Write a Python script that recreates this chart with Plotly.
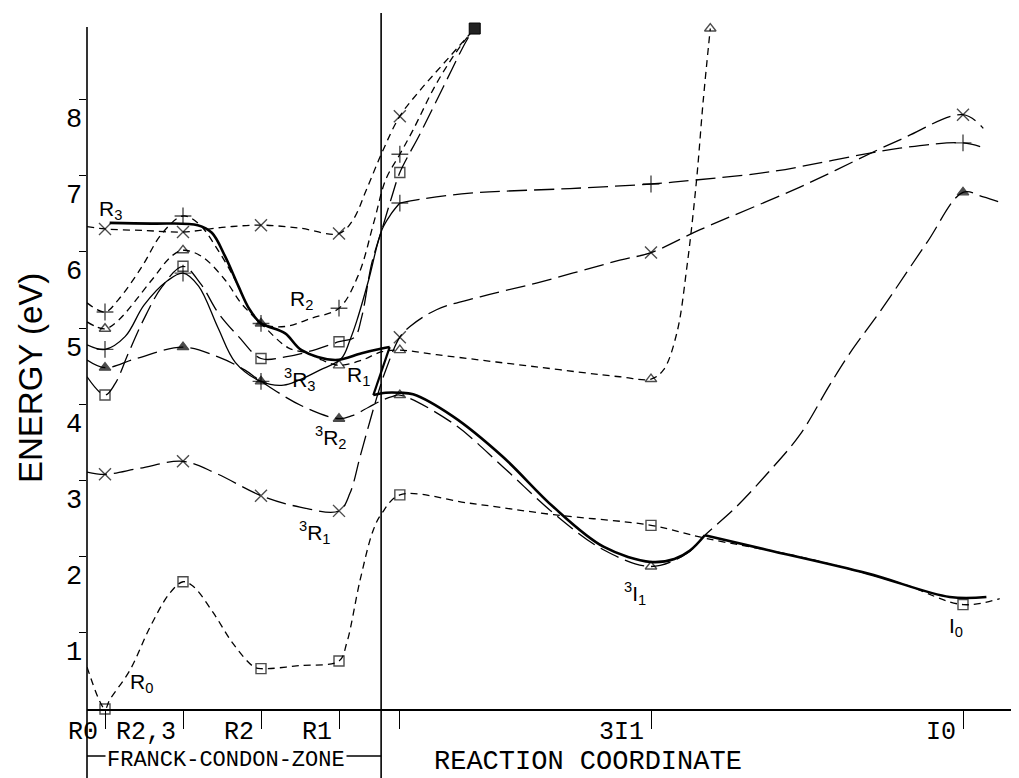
import plotly.graph_objects as go

# ---------------- axes ----------------
XMIN, XMAX = -0.2308, 11.718
YMIN, YMAX = 0.0, 9.134
X_TICKS = [0, 1, 2, 3, 3.78, 7, 11]
X_LABELS = ["R0", "R2,3", "R2", "R1", "3I1", "I0"]
X_LABEL_POS = [0, 1, 2, 3, 7, 11]
Y_TICKS = [1, 2, 3, 4, 5, 6, 7, 8]
X_DIVIDER = 3.54

# ---------------- curves (x, energy eV, marker code per point) ----------------
# marker codes: x = cross, + = plus, t = open triangle, T = filled triangle, s = open square
R0_x = [-0.23, 0, 0.06, 0.32, 0.58, 0.83, 1, 1.13, 1.39, 1.64, 1.9, 2, 2.5, 3, 3.1, 3.27, 3.44, 3.55,
        3.78, 4.68, 5.75, 7, 7.7, 8.9, 10.2, 11, 11.47]
R0_y = [0.55, 0.0, 0.12, 0.51, 1.08, 1.52, 1.67, 1.61, 1.26, 0.86, 0.56, 0.53, 0.57, 0.63, 0.87, 1.69, 2.35, 2.57,
        2.81, 2.70, 2.55, 2.41, 2.24, 2.0, 1.65, 1.37, 1.45]
R0_m = ["", "s", "", "", "", "", "s", "", "", "", "", "s", "", "s", "", "", "", "",
        "s", "", "", "s", "", "", "", "s", ""]

R3_x = [-0.23, 0, 0.5, 1, 1.5, 2, 2.5, 3, 3.18, 3.35, 3.55, 3.78, 4.04, 4.34, 4.74]
R3_y = [6.33, 6.30, 6.28, 6.26, 6.32, 6.35, 6.31, 6.24, 6.42, 6.81, 7.30, 7.78, 8.12, 8.47, 8.93]
R3_m = ["", "x", "", "x", "", "x", "", "x", "", "", "", "x", "", "", ""]

R2_x = [-0.23, 0, 0.17, 0.47, 0.73, 1, 1.2, 1.45, 1.67, 1.85, 2, 2.31, 2.65, 3, 3.25, 3.45, 3.6,
        3.78, 3.95, 4.25, 4.55, 4.74]
R2_y = [5.33, 5.21, 5.37, 5.80, 6.24, 6.47, 6.37, 6.02, 5.63, 5.25, 5.06, 5.02, 5.13, 5.26, 5.7, 6.4, 6.95,
        7.28, 7.6, 8.21, 8.69, 8.93]
R2_m = ["", "+", "", "", "", "+", "", "", "", "", "+", "", "", "+", "", "", "",
        "+", "", "", "", ""]

R1_x = [-0.23, 0, 0.17, 0.6, 0.85, 1, 1.24, 1.54, 1.75, 2, 2.35, 2.6, 2.78, 3, 3.3, 3.55, 3.78, 4.25,
        5.53, 6.6, 7, 7.16, 7.33, 7.46, 7.58, 7.67, 7.76]
R1_y = [5.08, 4.99, 5.10, 5.63, 5.94, 6.02, 5.94, 5.63, 5.32, 5.06, 4.74, 4.67, 4.58, 4.51, 4.58, 4.69, 4.71, 4.65,
        4.49, 4.36, 4.33, 4.45, 4.93, 5.80, 6.90, 7.99, 8.93]
R1_m = ["", "t", "", "", "", "t", "", "", "", "T", "", "", "", "t", "", "", "t", "",
        "", "", "t", "", "", "", "", "", "t"]

T1_x = [-0.23, 0, 0.45, 1, 1.43, 2, 2.5, 3, 3.14, 3.27, 3.4, 3.5, 3.6, 3.78, 3.91, 4.25, 4.81, 5.53, 6.6,
        7, 7.63, 8.91, 10.19, 11, 11.26]
T1_y = [3.11, 3.08, 3.16, 3.25, 3.09, 2.80, 2.65, 2.60, 2.83, 3.31, 3.79, 4.14, 4.45, 4.88, 5.02, 5.24, 5.41, 5.59,
        5.89, 5.99, 6.29, 6.85, 7.47, 7.80, 7.62]
T1_m = ["", "x", "", "x", "", "x", "", "x", "", "", "", "", "", "x", "", "", "", "", "",
        "x", "", "", "", "x", ""]

T2_x = [-0.23, 0, 0.4, 1, 1.45, 1.79, 2, 2.52, 3, 3.17, 3.38, 3.55, 3.68, 3.78, 4.46, 5.1, 5.75, 6.39, 7,
        7.46, 7.69, 8.08, 8.5, 8.91, 9.29, 9.55, 9.98, 10.53, 11, 11.26, 11.5]
T2_y = [4.58, 4.48, 4.60, 4.75, 4.62, 4.45, 4.30, 3.98, 3.81, 3.85, 3.96, 4.05, 4.10, 4.12, 3.75, 3.18, 2.57, 2.09,
        1.87, 2.04, 2.28, 2.64, 3.1, 3.6, 4.25, 4.67, 5.28, 6.11, 6.78, 6.72, 6.64]
T2_m = ["", "T", "", "T", "", "", "T", "", "T", "", "", "", "", "t", "", "", "", "", "t",
        "", "", "", "", "", "", "", "", "", "T", "", ""]

T3s_x = [-0.23, 0, 0.13, 0.3, 0.49, 0.73, 1, 1.22, 1.45, 1.71, 2, 2.31, 2.61, 3, 3.2, 3.29, 3.42, 3.55,
         3.67, 3.78, 4.04, 4.34, 4.64, 4.74]
T3s_y = [4.36, 4.12, 4.27, 4.67, 5.10, 5.54, 5.81, 5.59, 5.2, 4.89, 4.60, 4.62, 4.69, 4.82, 4.88, 5.14, 5.85, 6.29,
         6.7, 7.04, 7.55, 8.17, 8.78, 8.93]
T3s_m = ["", "s", "", "", "", "", "s", "", "", "", "s", "", "", "s", "", "", "", "",
         "", "s", "", "", "", ""]

T3p_x = [-0.23, 0, 0.26, 0.5, 0.8, 1, 1.2, 1.45, 1.67, 2, 2.29, 2.76, 3.03, 3.14, 3.23, 3.38, 3.55, 3.67, 3.78]
T3p_y = [4.78, 4.72, 4.89, 5.3, 5.62, 5.72, 5.55, 5.0, 4.55, 4.30, 4.25, 4.45, 4.6, 4.84, 5.1, 5.63, 6.29, 6.50, 6.64]
T3p_m = ["", "+", "", "", "", "+", "", "", "", "+", "", "", "", "", "", "", "", "", "+"]

IP_x = [3.78, 4.04, 4.68, 5.96, 7, 7.55, 8.53, 10.19, 11, 11.22]
IP_y = [6.64, 6.69, 6.77, 6.83, 6.89, 6.94, 7.05, 7.36, 7.43, 7.38]
IP_m = ["", "", "", "", "+", "", "", "", "+", ""]

TOP_x = [4.74]
TOP_y = [8.93]

# bold adiabatic path
B1_x = [0.06, 0.6, 1.19, 1.37, 1.54, 1.71, 1.85, 2, 2.09, 2.31, 2.52, 2.95, 3.29, 3.55, 3.65]
B1_y = [6.38, 6.37, 6.35, 6.25, 5.94, 5.55, 5.25, 5.06, 5.02, 4.93, 4.71, 4.58, 4.67, 4.73, 4.75]
B2_x = [3.65, 3.44]
B2_y = [4.75, 4.12]
B3_x = [3.44, 3.6, 3.78, 3.95, 4.46, 5.1, 5.75, 6.39, 7, 7.3, 7.5, 7.69]
B3_y = [4.12, 4.15, 4.15, 4.13, 3.84, 3.31, 2.65, 2.13, 1.93, 1.97, 2.08, 2.28]
B4_x = [7.69, 8.48, 9.77, 10.83, 11.3]
B4_y = [2.28, 2.09, 1.78, 1.47, 1.47]

# curve labels: (html text, x, y)
LABELS = [
    ("R<sub>3</sub>", -0.10, 6.55),
    ("R<sub>2</sub>", 2.35, 5.37),
    ("R<sub>1</sub>", 3.08, 4.37),
    ("<sup>3</sup>R<sub>3</sub>", 2.27, 4.33),
    ("<sup>3</sup>R<sub>2</sub>", 2.67, 3.56),
    ("<sup>3</sup>R<sub>1</sub>", 2.46, 2.32),
    ("R<sub>0</sub>", 0.29, 0.34),
    ("<sup>3</sup>I<sub>1</sub>", 6.63, 1.52),
    ("I<sub>0</sub>", 10.79, 1.08),
]

SHORT = "7px,5px"
LONG = "20px,7px"
SYM = {"x": "x-thin", "+": "cross-thin", "t": "triangle-up-open", "T": "triangle-up", "s": "square-open"}
SIZE = {"x": 12, "+": 12, "t": 10, "T": 10, "s": 10}

fig = go.Figure()


def add_curve(xs, ys, dash, width=1.3, marks=None):
    fig.add_trace(go.Scatter(x=xs, y=ys, mode="lines",
                             line=dict(color="black", width=width, dash=dash, shape="spline", smoothing=1.0),
                             hoverinfo="skip", showlegend=False))
    if marks:
        mx = [x for x, m in zip(xs, marks) if m]
        my = [y for y, m in zip(ys, marks) if m]
        ms = [SYM[m] for m in marks if m]
        sz = [SIZE[m] for m in marks if m]
        fig.add_trace(go.Scatter(x=mx, y=my, mode="markers", cliponaxis=False,
                                 marker=dict(symbol=ms, size=sz, color="black",
                                             line=dict(color="black", width=1.4)),
                                 hoverinfo="skip", showlegend=False))


add_curve(R0_x, R0_y, SHORT, marks=R0_m)
add_curve(R3_x, R3_y, SHORT, marks=R3_m)
add_curve(R2_x, R2_y, SHORT, marks=R2_m)
add_curve(R1_x, R1_y, SHORT, marks=R1_m)
add_curve(T1_x, T1_y, LONG, marks=T1_m)
add_curve(T2_x, T2_y, LONG, marks=T2_m)
add_curve(T3s_x, T3s_y, LONG, marks=T3s_m)
add_curve(T3p_x, T3p_y, "solid", marks=T3p_m)
add_curve(IP_x, IP_y, LONG, marks=IP_m)
add_curve(B1_x, B1_y, "solid", width=2.6)
add_curve(B2_x, B2_y, "solid", width=2.2)
add_curve(B3_x, B3_y, "solid", width=2.6)
add_curve(B4_x, B4_y, "solid", width=2.6)
fig.add_trace(go.Scatter(x=TOP_x, y=TOP_y, mode="markers", cliponaxis=False,
                         marker=dict(symbol="square", size=11, color="#222",
                                     line=dict(color="black", width=1)),
                         hoverinfo="skip", showlegend=False))

MONO = "Liberation Mono, DejaVu Sans Mono, monospace"
SANS = "Liberation Sans, Arial, sans-serif"

ann = []
for txt, x, y in LABELS:
    ann.append(dict(text=txt, x=x, y=y, xref="x", yref="y", xanchor="left", yanchor="middle",
                    showarrow=False, font=dict(family=SANS, size=21, color="black")))
for lab, xv in zip(X_LABELS, X_LABEL_POS):
    ann.append(dict(text=lab, x=xv, y=(709 - 732) / 696, xref="x", yref="paper", xanchor="right",
                    yanchor="middle", xshift=-6, showarrow=False, borderpad=0,
                    font=dict(family=MONO, size=25, color="black")))
for v in Y_TICKS:
    ann.append(dict(text=str(v), x=-0.0139, y=v - 0.27, xref="paper", yref="y", xanchor="center",
                    yanchor="middle", showarrow=False, font=dict(family=MONO, size=27, color="black")))

ann.append(dict(text="ENERGY (eV)", x=(31 - 87) / 932, y=(709 - 378) / 696, xref="paper", yref="paper",
                textangle=-90, showarrow=False, xanchor="center", yanchor="middle",
                font=dict(family=SANS, size=33, color="black")))
ann.append(dict(text="REACTION COORDINATE", x=4.205, y=(709 - 762) / 696, xref="x", yref="paper",
                xanchor="left", yanchor="middle", showarrow=False, borderpad=0,
                font=dict(family=MONO, size=27, color="black")))
ann.append(dict(text="FRANCK-CONDON-ZONE", x=1.55, y=-0.0733, xref="x", yref="paper",
                xanchor="center", yanchor="middle", showarrow=False, bgcolor="white",
                font=dict(family=MONO, size=22, color="black")))

div_px = (X_DIVIDER - XMIN) / (XMAX - XMIN)
bottom = -69 / 696
shapes = [
    dict(type="line", xref="paper", yref="paper", x0=0, x1=0, y0=bottom, y1=(709 - 27) / 696,
         line=dict(color="black", width=1.6)),
    dict(type="line", xref="paper", yref="paper", x0=div_px, x1=div_px, y0=bottom, y1=1.0,
         line=dict(color="black", width=1.6)),
    dict(type="line", xref="paper", yref="paper", x0=0, x1=div_px, y0=-0.0675, y1=-0.0675,
         line=dict(color="black", width=1.3)),
]

# the page adds an 8px body margin, so the figure is 8px smaller than the window
fig.update_layout(
    width=1011, height=770,
    margin=dict(l=79, r=0, t=5, b=69),
    paper_bgcolor="white", plot_bgcolor="white",
    showlegend=False,
    annotations=ann, shapes=shapes,
    xaxis=dict(range=[XMIN, XMAX], showgrid=False, zeroline=False, showline=True, linecolor="black",
               linewidth=1.5, ticks="outside", ticklen=18, tickwidth=1.3, tickcolor="black",
               tickvals=X_TICKS, showticklabels=False, fixedrange=True),
    yaxis=dict(range=[YMIN, YMAX], showgrid=False, zeroline=False, showline=False,
               ticks="outside", ticklen=7, tickwidth=1.3, tickcolor="black",
               tickvals=Y_TICKS, showticklabels=False, fixedrange=True),
)

fig.write_html("out.html")
